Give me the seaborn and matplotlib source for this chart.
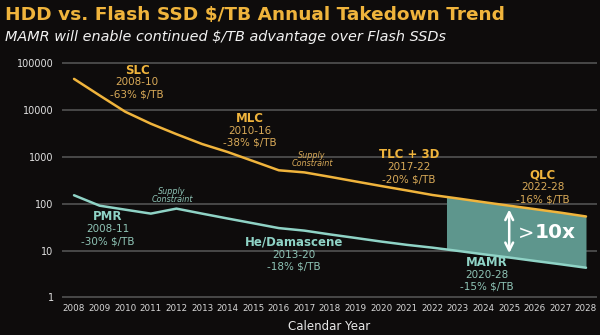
import numpy as np
import pandas as pd
import matplotlib
matplotlib.use("Agg")
import matplotlib.pyplot as plt
import seaborn as sns

years = list(range(2008, 2029))
flash_usd_tb = [45000, 20000, 9000, 5000, 3000, 1850, 1250, 800, 510, 460, 370,
                295, 236, 190, 152, 128, 107, 90, 76, 64, 53]
hdd_usd_tb = [150, 90, 74, 61, 78, 61, 48, 38, 30, 26.5, 22, 18.5, 15.5, 13.2,
              11.5, 9.8, 8.3, 7.1, 6.0, 5.1, 4.3]
ytick_vals = [1, 10, 100, 1000, 10000, 100000]
ytick_labels = ["1", "10", "100", "1000", "10000", "100000"]
gap_start = 2022.55
arrow_year = 2025

BG = "#0e0c0c"
ORANGE = "#f0b43c"
ORANGE_TXT = "#d9aa58"
TEAL = "#8fd3c6"
TEAL_TXT = "#8fc4b6"
FILL = "#5e968d"

sns.set_theme(style="dark")
plt.rcParams['font.family'] = ['DejaVu Sans']

df = pd.DataFrame({"year": years * 2,
                   "value": flash_usd_tb + hdd_usd_tb,
                   "series": ["Flash"] * len(years) + ["HDD"] * len(years)})

fig = plt.figure(figsize=(6, 3.35), dpi=100, facecolor=BG)
ax = fig.add_axes([62 / 600, 1 - 298 / 335, 535 / 600, 236 / 335])
ax.set_facecolor(BG)

ax.set_yscale("log")
ax.set_ylim(0.975, 1.03e5)
ax.set_xlim(2007.53, 2028.43)
for v in ytick_vals:
    ax.axhline(v, color="#4d4d4d", lw=1.3, zorder=0)

# gap fill
yrs = np.array(years, dtype=float)
lf = np.log10(flash_usd_tb)
lh = np.log10(hdd_usd_tb)
xf = np.concatenate([[gap_start], yrs[yrs > gap_start]])
top = 10 ** np.interp(xf, yrs, lf)
bot = 10 ** np.interp(xf, yrs, lh)
ax.fill_between(xf, bot, top, color=FILL, lw=0, zorder=1)

sns.lineplot(data=df, x="year", y="value", hue="series",
             palette={"Flash": ORANGE, "HDD": TEAL}, linewidth=1.8,
             legend=False, ax=ax, zorder=3)

ai = years.index(arrow_year)
ax.annotate("", xy=(arrow_year, hdd_usd_tb[ai] * 1.08), xytext=(arrow_year, flash_usd_tb[ai] * 0.95),
            arrowprops=dict(arrowstyle="<->", color="white", lw=1.8, mutation_scale=14), zorder=4)

ax.set_yticks(ytick_vals)
ax.set_yticklabels(ytick_labels)
ax.set_xticks(years)
ax.set_xticklabels([str(y) for y in years])
ax.tick_params(axis="y", colors="#e0e0e0", labelsize=7, length=0, pad=6)
ax.tick_params(axis="x", colors="#d8d8d8", labelsize=6.3, length=0, pad=4)
ax.grid(False)
for s in ax.spines.values():
    s.set_visible(False)
ax.set_xlabel("Calendar Year", color="#e8e8e8", fontsize=8.5, labelpad=5)
ax.set_ylabel("")

def ftext(x, y, s, **kw):
    fig.text(x / 600, 1 - y / 335, s, ha="center", va="center", **kw)

fig.text(5 / 600, 1 - 15 / 335, "HDD vs. Flash SSD $/TB Annual Takedown Trend",
         color=ORANGE, fontsize=13.3, fontweight="bold", ha="left", va="center")
fig.text(5 / 600, 1 - 37 / 335, "MAMR will enable continued $/TB advantage over Flash SSDs",
         color="#f2f2f2", fontsize=10.4, style="italic", ha="left", va="center")

flash_notes = [(137, 70, "SLC", "2008-10", "-63% $/TB"),
               (250, 118, "MLC", "2010-16", "-38% $/TB"),
               (409, 155, "TLC + 3D", "2017-22", "-20% $/TB"),
               (543, 175, "QLC", "2022-28", "-16% $/TB")]
hdd_notes = [(108, 217, "PMR", "2008-11", "-30% $/TB"),
             (294, 242, "He/Damascene", "2013-20", "-18% $/TB"),
             (487, 262, "MAMR", "2020-28", "-15% $/TB")]
for x, y, a, b, c in flash_notes:
    ftext(x, y, a, color=ORANGE, fontsize=8.5, fontweight="bold")
    ftext(x, y + 12.5, b, color=ORANGE_TXT, fontsize=7.5)
    ftext(x, y + 24.5, c, color=ORANGE_TXT, fontsize=7.5)
for x, y, a, b, c in hdd_notes:
    ftext(x, y, a, color=TEAL, fontsize=8.5, fontweight="bold")
    ftext(x, y + 12.5, b, color=TEAL_TXT, fontsize=7.5)
    ftext(x, y + 24.5, c, color=TEAL_TXT, fontsize=7.5)

ftext(312, 155, "Supply", color=ORANGE_TXT, fontsize=5.8, style="italic")
ftext(312, 164, "Constraint", color=ORANGE_TXT, fontsize=5.8, style="italic")
ftext(172, 191, "Supply", color=TEAL_TXT, fontsize=5.8, style="italic")
ftext(172, 200, "Constraint", color=TEAL_TXT, fontsize=5.8, style="italic")

fig.text(518 / 600, 1 - 233 / 335, ">", color="white", fontsize=14, ha="left", va="center")
fig.text(535 / 600, 1 - 233 / 335, "10x", color="white", fontsize=14.5, fontweight="bold",
         ha="left", va="center")

fig.savefig("out.png", dpi=100, facecolor=BG)
